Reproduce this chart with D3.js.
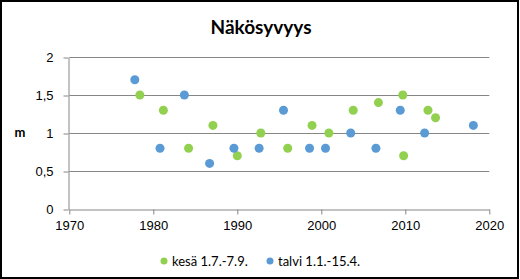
<!DOCTYPE html>
<html>
<head>
<meta charset="utf-8">
<script src="https://cdn.jsdelivr.net/npm/d3@7"></script>
<style>
  body { margin: 0; background: #fff; }
  svg { display: block; font-family: Lato, "Open Sans", sans-serif; }
</style>
</head>
<body>
<svg width="520" height="279"></svg>
<script>
// Series: kesä (summer) and talvi (winter) visibility depth, m
var kesaYears  = [1978.4, 1981.2, 1984.2, 1987.1, 1990.0, 1992.8, 1996.0, 1998.9, 2000.9, 2003.8, 2006.8, 2009.7, 2009.8, 2012.7, 2013.6];
var kesaValues = [1.5,    1.3,    0.8,    1.1,    0.7,    1.0,    0.8,    1.1,    1.0,    1.3,    1.4,    1.5,    0.7,    1.3,    1.2];

var talviYears  = [1977.8, 1980.8, 1983.7, 1986.7, 1989.6, 1992.6, 1995.5, 1998.6, 2000.5, 2003.5, 2006.5, 2009.4, 2012.3, 2018.1];
var talviValues = [1.7,    0.8,    1.5,    0.6,    0.8,    0.8,    1.3,    0.8,    0.8,    1.0,    0.8,    1.3,    1.0,    1.1];

var xTicks = [1970, 1980, 1990, 2000, 2010, 2020];
var yTicks = [0, 0.5, 1, 1.5, 2];

var seriesNames = ["kesä 1.7.-7.9.", "talvi 1.1.-15.4."];
var colors = ["#92d050", "#5b9bd5"];

var svg = d3.select("svg");

// outer frame
svg.append("rect")
    .attr("x", 1).attr("y", 1)
    .attr("width", 517).attr("height", 277)
    .attr("fill", "none")
    .attr("stroke", "#000")
    .attr("stroke-width", 2);

var xScale = d3.scaleLinear().domain([1970, 2020]).range([69.3, 489.3]);
var yScale = d3.scaleLinear().domain([0, 2]).range([209, 57]);

// title
svg.append("text")
    .attr("x", 261).attr("y", 34)
    .attr("text-anchor", "middle")
    .attr("font-size", "19px")
    .attr("font-weight", "bold")
    .attr("fill", "#000")
    .text("Näkösyvyys");

// gridlines
svg.append("g")
    .selectAll("line")
    .data(yTicks.filter(function (d) { return d > 0; }))
    .enter().append("line")
    .attr("x1", xScale(1970)).attr("x2", xScale(2020))
    .attr("y1", function (d) { return Math.round(yScale(d)) + 0.5; })
    .attr("y2", function (d) { return Math.round(yScale(d)) + 0.5; })
    .attr("stroke", "#868686");

var fmt = function (d) { return String(d).replace(".", ","); };

// y axis
var yAxis = d3.axisLeft(yScale).tickValues(yTicks).tickFormat(fmt).tickSize(5).tickSizeOuter(0).tickPadding(10);
var gy = svg.append("g")
    .attr("transform", "translate(" + (Math.round(xScale(1970)) - 0.5) + ",0.5)")
    .call(yAxis);

// x axis
var xAxis = d3.axisBottom(xScale).tickValues(xTicks).tickFormat(d3.format("d")).tickSize(5).tickSizeOuter(0).tickPadding(6);
var gx = svg.append("g")
    .attr("transform", "translate(0," + (Math.round(yScale(0)) + 0.5) + ")")
    .call(xAxis);

[gx, gy].forEach(function (g) {
    g.selectAll("path, line").attr("stroke", "#868686");
    g.selectAll("text").attr("fill", "#000").attr("font-size", "13px");
});

// y axis title
svg.append("text")
    .attr("x", 20).attr("y", 137)
    .attr("text-anchor", "middle")
    .attr("font-size", "13px")
    .attr("font-weight", "bold")
    .text("m");

// points
function drawSeries(years, values, color) {
    svg.append("g")
        .selectAll("circle")
        .data(years)
        .enter().append("circle")
        .attr("cx", function (d) { return xScale(d); })
        .attr("cy", function (d, i) { return yScale(values[i]); })
        .attr("r", 4.5)
        .attr("fill", color);
}
drawSeries(kesaYears, kesaValues, colors[0]);
drawSeries(talviYears, talviValues, colors[1]);

// legend
var legendX = [164, 270];
var legend = svg.append("g").selectAll("g")
    .data(seriesNames)
    .enter().append("g")
    .attr("transform", function (d, i) { return "translate(" + legendX[i] + ",261)"; });
legend.append("circle").attr("r", 3.5).attr("fill", function (d, i) { return colors[i]; });
legend.append("text")
    .attr("x", 8).attr("y", 4.5)
    .attr("font-size", "13px")
    .attr("fill", "#000")
    .text(function (d) { return d; });
</script>
</body>
</html>
